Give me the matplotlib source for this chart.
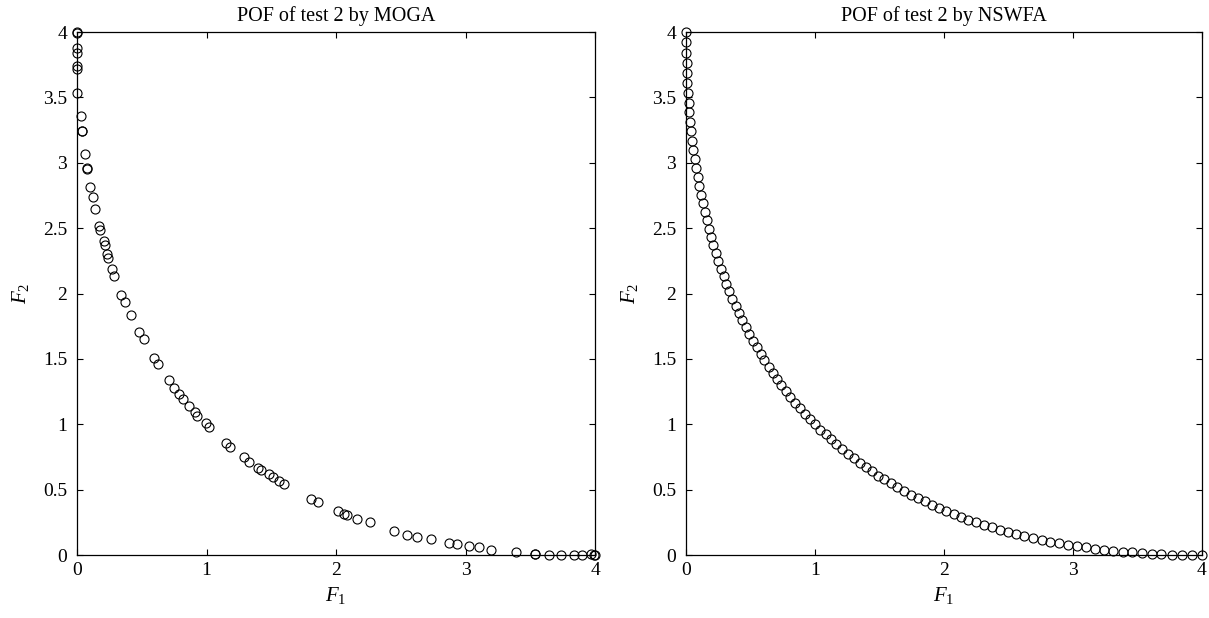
import matplotlib
matplotlib.use("Agg")
import matplotlib.pyplot as plt

plt.rcParams["font.family"] = ["Liberation Serif", "DejaVu Serif"]
plt.rcParams["mathtext.fontset"] = "custom"
plt.rcParams["mathtext.rm"] = "Liberation Serif"
plt.rcParams["mathtext.it"] = "Liberation Serif:italic"

# Pareto-optimal front found by MOGA
moga_f1 = [0.0, 0.0, 0.0, 0.0, 0.0, 0.0, 0.0, 0.031, 0.041, 0.041, 0.062, 0.075, 0.075,
           0.10, 0.121, 0.139, 0.17, 0.175, 0.206, 0.214, 0.229, 0.239, 0.273, 0.288,
           0.342, 0.368, 0.415, 0.481, 0.515, 0.592, 0.625, 0.710, 0.751, 0.790, 0.816,
           0.862, 0.913, 0.929, 0.996, 1.022, 1.150, 1.184, 1.290, 1.331, 1.398, 1.423,
           1.485, 1.511, 1.557, 1.598, 1.807, 1.858, 2.013, 2.064, 2.085, 2.162, 2.260,
           2.448, 2.551, 2.625, 2.731, 2.873, 2.932, 3.025, 3.107, 3.195, 3.393, 3.534,
           3.540, 3.645, 3.737, 3.836, 3.900, 3.969, 3.995, 4.0]
moga_f2 = [4.0, 3.995, 3.88, 3.837, 3.74, 3.717, 3.53, 3.36, 3.243, 3.240, 3.067, 2.957,
           2.952, 2.812, 2.74, 2.644, 2.52, 2.483, 2.399, 2.371, 2.304, 2.271, 2.185, 2.131,
           1.991, 1.935, 1.833, 1.706, 1.650, 1.504, 1.458, 1.338, 1.277, 1.231, 1.196,
           1.140, 1.094, 1.063, 1.007, 0.977, 0.859, 0.828, 0.752, 0.709, 0.668, 0.650,
           0.617, 0.599, 0.568, 0.541, 0.431, 0.403, 0.339, 0.311, 0.304, 0.275, 0.250,
           0.186, 0.155, 0.138, 0.122, 0.094, 0.084, 0.066, 0.059, 0.041, 0.023, 0.010,
           0.008, 0.002, 0.002, 0.002, 0.002, 0.005, 0.0, 0.0]

# Pareto-optimal front found by NSWFA
nswfa_f1 = [0.000, 0.000, 0.002, 0.004, 0.006, 0.010, 0.014, 0.020, 0.026, 0.032,
            0.040, 0.048, 0.058, 0.068, 0.078, 0.090, 0.102, 0.116, 0.130, 0.144,
            0.160, 0.176, 0.194, 0.212, 0.230, 0.250, 0.270, 0.292, 0.314, 0.336,
            0.360, 0.384, 0.410, 0.436, 0.462, 0.490, 0.518, 0.548, 0.578, 0.608,
            0.640, 0.672, 0.706, 0.740, 0.774, 0.810, 0.846, 0.884, 0.922, 0.960,
            1.000, 1.040, 1.082, 1.124, 1.166, 1.210, 1.254, 1.300, 1.346, 1.392,
            1.440, 1.488, 1.538, 1.588, 1.638, 1.690, 1.742, 1.796, 1.850, 1.904,
            1.960, 2.016, 2.074, 2.132, 2.190, 2.250, 2.310, 2.372, 2.434, 2.496,
            2.560, 2.624, 2.690, 2.756, 2.822, 2.890, 2.958, 3.028, 3.098, 3.168,
            3.240, 3.312, 3.386, 3.460, 3.534, 3.610, 3.686, 3.764, 3.842, 3.920,
            4.000]
nswfa_f2 = [4.000, 3.920, 3.842, 3.764, 3.686, 3.610, 3.534, 3.460, 3.386, 3.312,
            3.240, 3.168, 3.098, 3.028, 2.958, 2.890, 2.822, 2.756, 2.690, 2.624,
            2.560, 2.496, 2.434, 2.372, 2.310, 2.250, 2.190, 2.132, 2.074, 2.016,
            1.960, 1.904, 1.850, 1.796, 1.742, 1.690, 1.638, 1.588, 1.538, 1.488,
            1.440, 1.392, 1.346, 1.300, 1.254, 1.210, 1.166, 1.124, 1.082, 1.040,
            1.000, 0.960, 0.922, 0.884, 0.846, 0.810, 0.774, 0.740, 0.706, 0.672,
            0.640, 0.608, 0.578, 0.548, 0.518, 0.490, 0.462, 0.436, 0.410, 0.384,
            0.360, 0.336, 0.314, 0.292, 0.270, 0.250, 0.230, 0.212, 0.194, 0.176,
            0.160, 0.144, 0.130, 0.116, 0.102, 0.090, 0.078, 0.068, 0.058, 0.048,
            0.040, 0.032, 0.026, 0.020, 0.014, 0.010, 0.006, 0.004, 0.002, 0.000,
            0.000]

titles = ["POF of test 2 by MOGA", "POF of test 2 by NSWFA"]
xticks = [0, 1, 2, 3, 4]
yticks = [0, 0.5, 1, 1.5, 2, 2.5, 3, 3.5, 4]
ytick_labels = ["0", "0.5", "1", "1.5", "2", "2.5", "3", "3.5", "4"]

fig = plt.figure(figsize=(12.09, 6.18), dpi=100)
ax1 = fig.add_axes([0.0637, 0.1019, 0.4285, 0.8463])
ax2 = fig.add_axes([0.5674, 0.1019, 0.4268, 0.8463])

for ax, f1, f2, title in [(ax1, moga_f1, moga_f2, titles[0]),
                          (ax2, nswfa_f1, nswfa_f2, titles[1])]:
    ax.plot(f1, f2, linestyle="none", marker="o", markersize=6.5,
            markerfacecolor="none", markeredgecolor="black",
            markeredgewidth=0.8, clip_on=False)
    ax.set_xlim(0, 4)
    ax.set_ylim(0, 4)
    ax.set_xticks(xticks)
    ax.set_xticklabels([str(t) for t in xticks])
    ax.set_yticks(yticks)
    ax.set_yticklabels(ytick_labels)
    ax.tick_params(direction="in", length=4, width=0.8, top=True, right=True,
                   labelsize=14)
    ax.tick_params(axis="y", pad=7)
    ax.tick_params(axis="x", pad=5)
    for sp in ax.spines.values():
        sp.set_linewidth(0.9)
    ax.set_title(title, fontsize=14.5, pad=8)
    ax.set_xlabel("$F_1$", fontsize=15, labelpad=4)
    ax.set_ylabel("$F_2$", fontsize=15, labelpad=9)

fig.savefig("out.png", dpi=100)
